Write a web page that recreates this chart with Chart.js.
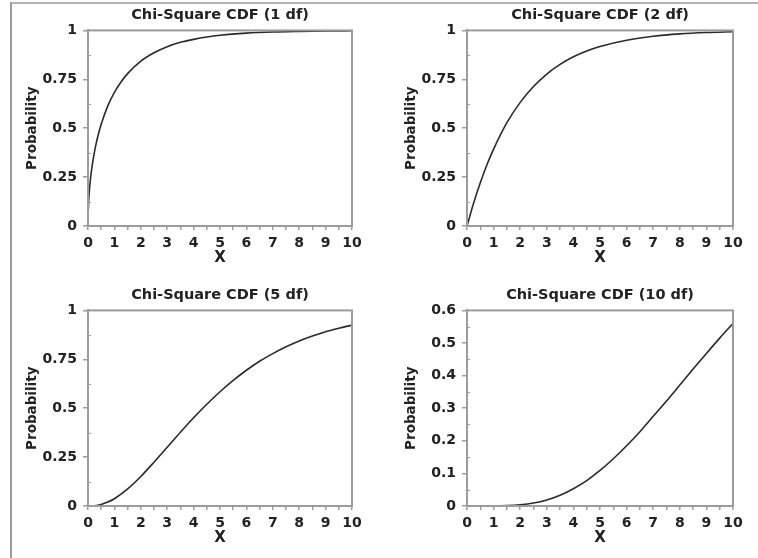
<!DOCTYPE html>
<html>
<head>
<meta charset="utf-8">
<script src="https://cdn.jsdelivr.net/npm/chart.js@4.4.1/dist/chart.umd.min.js"></script>
<style>
  html, body { margin: 0; padding: 0; background: #fff; }
  #page { position: relative; width: 758px; height: 558px; overflow: hidden; }
  #frame { position: absolute; left: 10px; top: 2px; width: 748px; height: 556px;
           border-left: 2px solid #9c9c9c; border-top: 2px solid #b4b4b4; box-sizing: border-box; }
  canvas { position: absolute; }
</style>
</head>
<body>
<div id="page">
  <div id="frame"></div>
  <canvas id="c1" width="379" height="279" style="left:0;top:0"></canvas>
  <canvas id="c2" width="379" height="279" style="left:379px;top:0"></canvas>
  <canvas id="c3" width="379" height="279" style="left:0;top:280px"></canvas>
  <canvas id="c4" width="379" height="279" style="left:379px;top:280px"></canvas>
</div>
<script>
// Chi-square CDF curves
const titles = ['Chi-Square CDF (1 df)', 'Chi-Square CDF (2 df)', 'Chi-Square CDF (5 df)', 'Chi-Square CDF (10 df)'];

const x1 = [0.01, 0.03, 0.05, 0.1, 0.15, 0.2, 0.3, 0.4, 0.5, 0.75, 1, 1.25, 1.5, 2, 2.5, 3, 3.5, 4, 4.5, 5, 6, 7, 8, 9, 10];
const p1 = [0.080, 0.138, 0.177, 0.248, 0.301, 0.345, 0.416, 0.473, 0.520, 0.614, 0.683, 0.736, 0.779, 0.843, 0.886, 0.917, 0.939, 0.954, 0.966, 0.975, 0.986, 0.992, 0.995, 0.997, 0.998];

const x2 = [0, 0.25, 0.5, 0.75, 1, 1.5, 2, 2.5, 3, 3.5, 4, 4.5, 5, 6, 7, 8, 9, 10];
const p2 = [0, 0.118, 0.221, 0.313, 0.393, 0.528, 0.632, 0.713, 0.777, 0.826, 0.865, 0.895, 0.918, 0.950, 0.970, 0.982, 0.989, 0.993];

const x5 = [0, 0.25, 0.5, 0.75, 1, 1.5, 2, 2.5, 3, 3.5, 4, 4.5, 5, 5.5, 6, 6.5, 7, 7.5, 8, 8.5, 9, 9.5, 10];
const p5 = [0, 0.0015, 0.008, 0.020, 0.037, 0.087, 0.151, 0.224, 0.300, 0.377, 0.451, 0.520, 0.584, 0.642, 0.694, 0.740, 0.779, 0.814, 0.844, 0.869, 0.891, 0.909, 0.925];

const x10 = [0, 1, 1.5, 2, 2.5, 3, 3.5, 4, 4.5, 5, 5.5, 6, 6.5, 7, 7.5, 8, 8.5, 9, 9.5, 10];
const p10 = [0, 0.0002, 0.0011, 0.0037, 0.0091, 0.0186, 0.033, 0.053, 0.078, 0.109, 0.145, 0.185, 0.228, 0.275, 0.322, 0.371, 0.420, 0.468, 0.515, 0.560];

const yMax = [1, 1, 1, 0.6];
const yStep = [0.25, 0.25, 0.25, 0.1];

Chart.defaults.font.family = "'DejaVu Sans', sans-serif";
Chart.defaults.color = '#222';

const AXIS = '#9c9c9c';

// plot box + short inward minor ticks on the y axis
const framePlugin = {
  id: 'frame',
  afterDraw(chart) {
    const { ctx, chartArea: a } = chart;
    const y = chart.scales.y;
    ctx.save();
    ctx.strokeStyle = AXIS;
    ctx.lineWidth = 2;
    ctx.strokeRect(a.left, a.top, a.right - a.left, a.bottom - a.top);
    ctx.lineWidth = 1;
    ctx.beginPath();
    for (let i = 0; i < y.ticks.length - 1; i++) {
      const mid = (y.ticks[i].value + y.ticks[i + 1].value) / 2;
      const py = Math.round(y.getPixelForValue(mid)) + 0.5;
      ctx.moveTo(a.left, py);
      ctx.lineTo(a.left + 3, py);
    }
    ctx.stroke();
    ctx.restore();
  }
};

function toPoints(xs, ys) {
  return xs.map((x, i) => ({ x: x, y: ys[i] }));
}

function makePanel(id, title, xs, ys, max, step, padRight) {
  new Chart(document.getElementById(id), {
    type: 'line',
    data: {
      datasets: [{
        data: toPoints(xs, ys),
        borderColor: '#2a2a2a',
        borderWidth: 1.6,
        pointRadius: 0,
        cubicInterpolationMode: 'monotone',
        fill: false
      }]
    },
    options: {
      responsive: false,
      animation: false,
      events: [],
      layout: { padding: { left: 0, right: padRight, top: 0, bottom: 0 } },
      plugins: {
        legend: { display: false },
        tooltip: { enabled: false },
        title: {
          display: true,
          text: title,
          fullSize: false,
          font: { size: 14.5, weight: 'bold' },
          color: '#222',
          padding: { top: 7, bottom: 6 }
        }
      },
      scales: {
        x: {
          type: 'linear',
          min: 0, max: 10,
          afterFit(s) { s.height = 53; },
          border: { color: AXIS, width: 2 },
          grid: { drawOnChartArea: false, color: AXIS, lineWidth: 1.5, tickLength: 4 },
          ticks: {
            stepSize: 0.5,
            autoSkip: false,
            maxRotation: 0,
            padding: 5,
            font: { size: 14, weight: 'bold' },
            color: '#222',
            callback: v => (Number.isInteger(v) ? String(v) : '')
          },
          title: {
            display: true,
            text: 'X',
            font: { size: 15, weight: 'bold' },
            color: '#222',
            padding: { top: 0, bottom: 12 }
          }
        },
        y: {
          min: 0, max: max,
          afterFit(s) { s.width = 88; },
          border: { color: AXIS, width: 2 },
          grid: { drawOnChartArea: false, color: AXIS, lineWidth: 1.5, tickLength: 5 },
          ticks: {
            stepSize: step,
            padding: 6,
            font: { size: 14, weight: 'bold' },
            color: '#222',
            callback: v => String(Number(v.toFixed(2)))
          },
          title: {
            display: true,
            text: 'Probability',
            font: { size: 13.5, weight: 'bold' },
            color: '#222',
            padding: { top: 24, bottom: 0 }
          }
        }
      }
    },
    plugins: [framePlugin]
  });
}

makePanel('c1', titles[0], x1, p1, yMax[0], yStep[0], 27);
makePanel('c2', titles[1], x2, p2, yMax[1], yStep[1], 25);
makePanel('c3', titles[2], x5, p5, yMax[2], yStep[2], 27);
makePanel('c4', titles[3], x10, p10, yMax[3], yStep[3], 25);
</script>
</body>
</html>
